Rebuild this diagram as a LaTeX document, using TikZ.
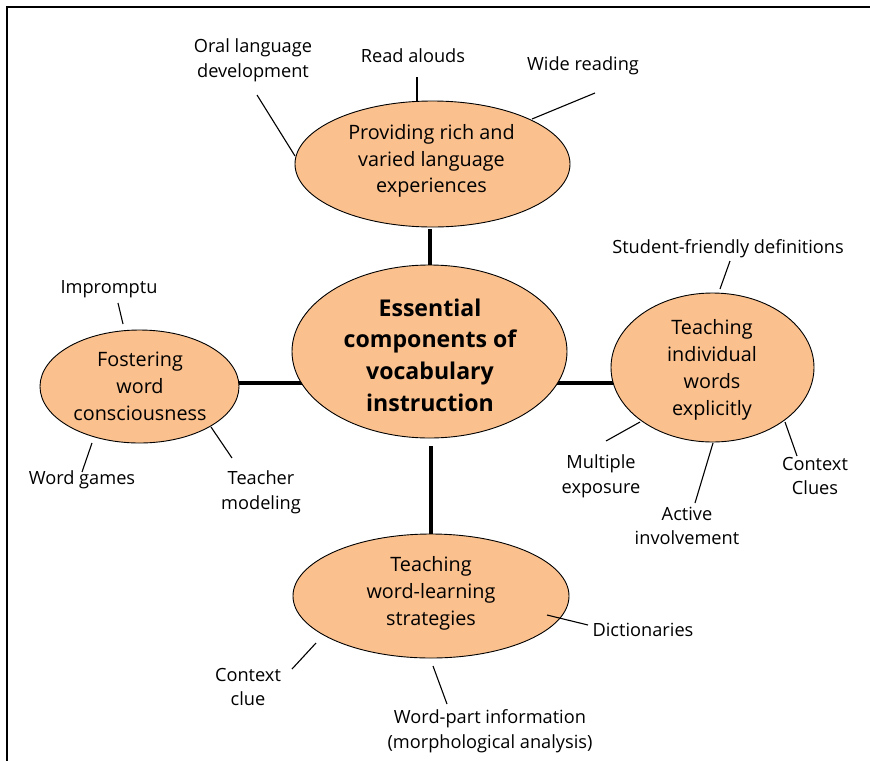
\documentclass[tikz,border=0pt]{standalone}
\usepackage{fontspec}
\setmainfont{Open Sans}
\usetikzlibrary{shapes.geometric,calc}
\definecolor{ellfill}{HTML}{FAC08E}
\tikzset{
  ell/.style={ellipse, draw=black, line width=0.9pt, fill=ellfill, inner sep=0pt},
  etext/.style={align=center, font=\fontsize{19.8}{26.8}\selectfont, inner sep=0pt},
  ctext/.style={align=center, font=\fontsize{23.1}{31.7}\selectfont\bfseries, inner sep=0pt},
  lab/.style={align=center, font=\fontsize{18.2}{24.6}\selectfont, inner sep=0pt},
  conn/.style={line width=4pt},
  leg/.style={line width=1.1pt},
  frame/.style={line width=2pt}
}
\begin{document}
\begin{tikzpicture}[x=1pt,y=-1pt]
\useasboundingbox (0,0) rectangle (870,761);
% frame
\coordinate (f1) at (870,7);
\coordinate (f2) at (7,7);
\coordinate (f3) at (7,761);
\draw[frame] (f1) -- (f2) -- (f3);

% ellipse positions
\coordinate (Tc) at (432.5,164);
\coordinate (Cc) at (429.5,351.5);
\coordinate (Lc) at (139.5,386.5);
\coordinate (Rc) at (712.5,367.5);
\coordinate (Bc) at (431,596);
\coordinate (hy) at (0,383);

% thick connectors (drawn beneath ellipses)
\draw[conn] (Lc |- hy) -- (Rc |- hy);

% ellipses
\node[ell, minimum width=275pt, minimum height=126pt] (T) at (Tc) {};
\node[ell, minimum width=275pt, minimum height=173pt] (C) at (Cc) {};
\node[ell, minimum width=199pt, minimum height=113pt] (L) at (Lc) {};
\node[ell, minimum width=203pt, minimum height=149pt] (R) at (Rc) {};
\node[ell, minimum width=276pt, minimum height=124pt] (B) at (Bc) {};

\coordinate (cs) at ($(C.south)+(1.5,0)$);
\draw[conn, shorten >=2pt] (C.north) -- (C.north |- T.south);
\draw[conn, shorten <=8pt] (cs) -- (cs |- B.north);

% ellipse texts
\node[etext] (Tt) at (431.5,161) {Providing rich and\\varied language\\experiences};
\node[ctext] (Ct) at (430,355) {Essential\\components of\\vocabulary\\instruction};
\node[etext] (Lt) at (140,386.5) {Fostering\\word\\consciousness};
\node[etext] (Rt) at (712,370) {Teaching\\individual\\words\\explicitly};
\node[etext] (Bt) at (431,593.5) {Teaching\\word-learning\\strategies};

% labels
\node[lab] (oral) at (253,60) {Oral language\\development};
\node[lab] (read) at (413,56) {Read alouds};
\node[lab] (wide) at (583,66) {Wide reading};
\node[lab] (imp) at (109,289) {Impromptu};
\node[lab] (wg) at (82,480) {Word games};
\node[lab] (tm) at (261,492.5) {Teacher\\modeling};
\node[lab] (sfd) at (728,249) {Student-friendly definitions};
\node[lab] (me) at (601,476) {Multiple\\exposure};
\node[lab] (ai) at (687,526) {Active\\involvement};
\node[lab] (cc) at (815,476) {Context\\Clues};
\node[lab] (dic) at (643,630) {Dictionaries};
\node[lab] (wp) at (490,731.5) {Word-part information\\(morphological analysis)};
\node[lab] (ccl) at (248,687) {Context\\clue};

% label leader ends
\coordinate (oral-e) at (257,95);
\coordinate (read-e) at (417,77);
\coordinate (wide-e) at (595,93);
\coordinate (imp-e) at (118,303);
\coordinate (wg-e) at (82,472);
\coordinate (tm-e) at (232,458);
\coordinate (sfd-e) at (730,261);
\coordinate (me-e) at (606,441);
\coordinate (ai-e) at (695,503);
\coordinate (cc-e) at (797,456);
\coordinate (dic-e) at (588,625);
\coordinate (wp-e) at (447,704);
\coordinate (ccl-e) at (292,669);

% leaders
\draw[leg] (oral-e) -- ($(T.center)+(-137.5,-8)$);
\draw[leg] (read-e) -- ($(T.center)+(-15.5,-62)$);
\draw[leg] (wide-e) -- ($(T.center)+(99.5,-45)$);
\draw[leg] (imp-e) -- ($(L.center)+(-16.5,-62.5)$);
\draw[leg] (wg-e) -- ($(L.center)+(-47.5,56.5)$);
\draw[leg] (tm-e) -- ($(L.center)+(71.5,40.5)$);
\draw[leg] (sfd-e) -- ($(R.center)+(7.5,-78.5)$);
\draw[leg] (me-e) -- ($(R.center)+(-72.5,54.5)$);
\draw[leg] (ai-e) -- ($(R.center)+(0.5,75.5)$);
\draw[leg] (cc-e) -- ($(R.center)+(72.5,54.5)$);
\draw[leg] (dic-e) -- ($(B.center)+(116,19)$);
\draw[leg] (wp-e) -- ($(B.center)+(2,70)$);
\draw[leg] (ccl-e) -- ($(B.center)+(-115,47)$);
\end{tikzpicture}
\end{document}
